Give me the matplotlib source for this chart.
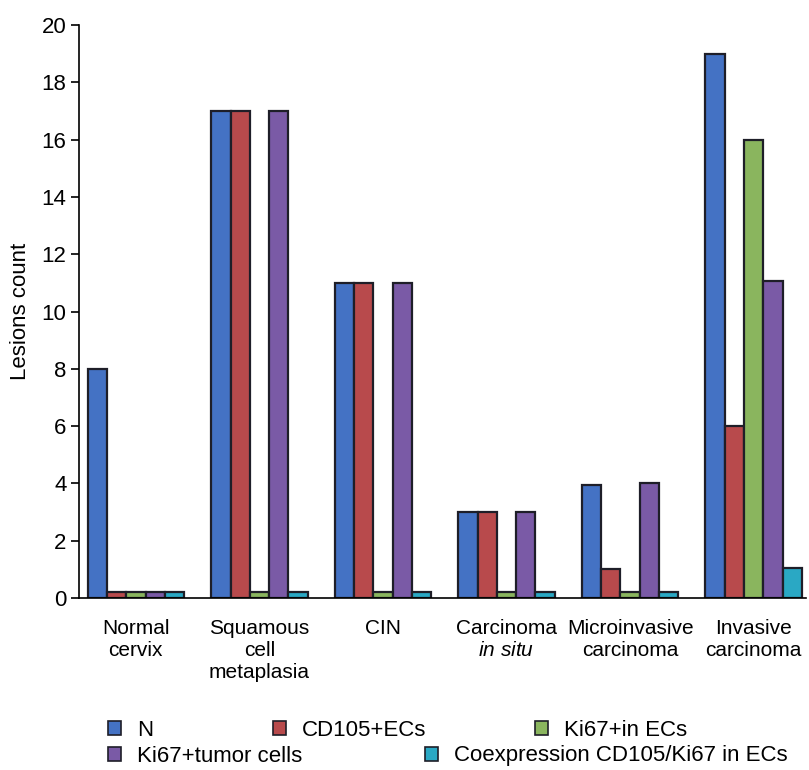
import matplotlib
matplotlib.use('Agg')
from matplotlib import pyplot as plt
from matplotlib.patches import Patch
import numpy as np

plt.rcParams['font.family'] = ['Liberation Sans', 'DejaVu Sans']
plt.rcParams['mathtext.fontset'] = 'custom'
plt.rcParams['mathtext.rm'] = 'Liberation Sans'
plt.rcParams['mathtext.it'] = 'Liberation Sans:italic'

categories = ['Normal\ncervix', 'Squamous\ncell\nmetaplasia', 'CIN',
              'Carcinoma\n$\\it{in\\ situ}$', 'Microinvasive\ncarcinoma', 'Invasive\ncarcinoma']
series_names = ['N', 'CD105+ECs', 'Ki67+in ECs', 'Ki67+tumor cells',
                'Coexpression CD105/Ki67 in ECs']
# zero counts are drawn as thin stubs in the original
n_values = [8, 17, 11, 3, 3.95, 19]
cd105_values = [0.2, 17, 11, 3, 1, 6]
ki67_ec_values = [0.2, 0.2, 0.2, 0.2, 0.2, 16]
ki67_tumor_values = [0.2, 17, 11, 3, 4, 11.05]
coexp_values = [0.2, 0.2, 0.2, 0.2, 0.2, 1.05]
colors = ['#4472c4', '#b84a4c', '#8ab55e', '#7a5aa6', '#2aa8c4']

series = [n_values, cd105_values, ki67_ec_values, ki67_tumor_values, coexp_values]

figure = plt.figure(figsize=(8.09, 7.7), dpi=100)
axes = figure.add_axes([0.0977, 0.2234, 0.898, 0.7441])

positions = np.arange(len(categories))
width = 0.156
for k, (vals, col) in enumerate(zip(series, colors)):
    axes.bar(positions + (k - 2) * width, vals, width, color=col,
             edgecolor='#1e1e28', linewidth=1.6, zorder=2)

axes.set_xlim(-0.46, 5.42)
axes.set_ylim(0, 20)
axes.set_yticks(np.arange(0, 21, 2))
axes.tick_params(axis='y', labelsize=16, length=6, width=1.2, pad=3)
axes.set_xticks(positions)
axes.set_xticklabels(categories, fontsize=15, linespacing=1.2)
axes.tick_params(axis='x', length=0, pad=15)
for side in ['top', 'right']:
    axes.spines[side].set_visible(False)
axes.spines['left'].set_linewidth(1.2)
axes.spines['bottom'].set_linewidth(1.2)
axes.set_ylabel('Lesions count', fontsize=16, labelpad=8)

# legend entries laid out like the original (two uneven rows)
legend_spots = [(108, 730), (273, 730), (535, 730), (108, 756), (425, 756)]
for name, col, (px, py) in zip(series_names, colors, legend_spots):
    figure.legend(handles=[Patch(facecolor=col, edgecolor='#1e1e28', linewidth=1.2)],
                  labels=[name], loc='center left',
                  bbox_to_anchor=(px / 809, 1 - py / 770), frameon=False,
                  fontsize=16, handlelength=0.6, handleheight=0.6,
                  handletextpad=0.7, borderpad=0, borderaxespad=0)

plt.savefig('out.png')
